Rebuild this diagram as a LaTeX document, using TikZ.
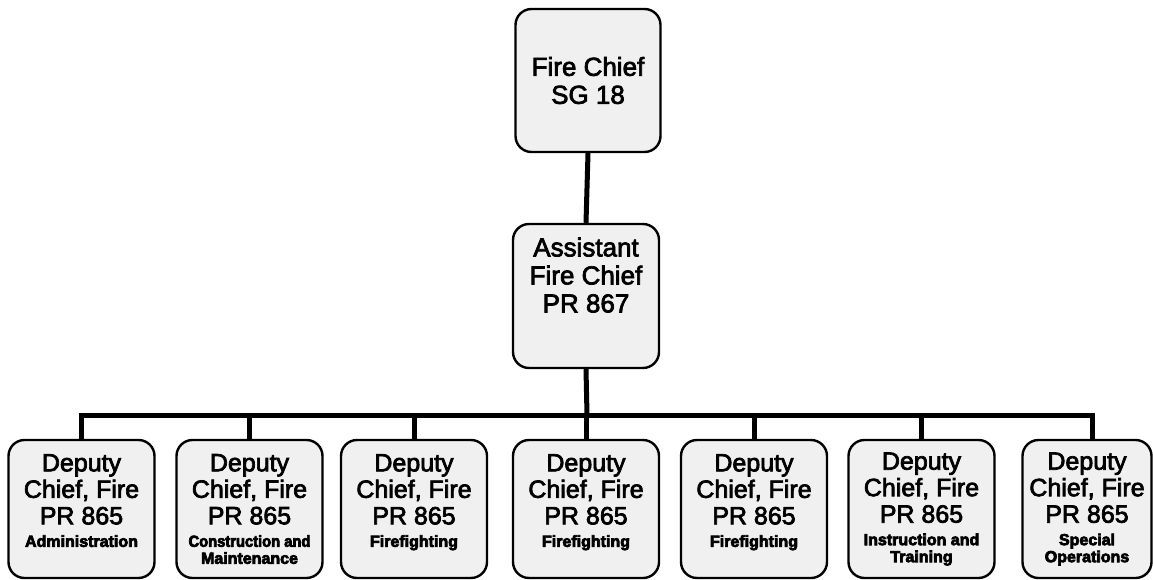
\documentclass[tikz,border=0pt]{standalone}
\usepackage{fontspec}
\setmainfont{Liberation Sans}
\newfontfamily\subfont{Liberation Sans Bold}
\newcommand{\subt}{\fontsize{16}{17}\selectfont\subfont}
\newcommand{\heavytext}{\special{pdf:literal direct 2 Tr 0.7 w}}
\begin{document}
\begin{tikzpicture}[x=1pt,y=-1pt,
  box/.style={draw=black, line width=2.4pt, rounded corners=16pt, fill=black!6, align=center, inner sep=0pt},
  bigbox/.style={box, minimum width=145pt, minimum height=143pt, font=\heavytext\fontsize{26}{28}\selectfont},
  depbox/.style={box, minimum width=146pt, minimum height=138pt, font=\heavytext\fontsize{25}{26.5}\selectfont},
  conn/.style={line width=5pt}]
\useasboundingbox (0,0) rectangle (1153,580);
\node[bigbox] (chief) at (588,80.5) {Fire Chief\\SG 18};
\node[bigbox, minimum width=146pt, minimum height=144pt] (asst) at (586,296) {Assistant\\Fire Chief\\PR 867\\[14pt] \mbox{}};
\node[depbox] (d1) at (81.5,509) {Deputy\\Chief, Fire\\PR 865\\[-4pt]{\subt Administration}\\[-9.5pt]{\subt \mbox{}}};
\node[depbox] (d2) at (249.5,509) {Deputy\\Chief, Fire\\PR 865\\[-4pt]{\subt\addfontfeature{FakeStretch=0.92} Construction and}\\[-9.5pt]{\subt Maintenance}};
\node[depbox] (d3) at (414,509) {Deputy\\Chief, Fire\\PR 865\\[-4pt]{\subt Firefighting}\\[-9.5pt]{\subt \mbox{}}};
\node[depbox] (d4) at (586,509) {Deputy\\Chief, Fire\\PR 865\\[-4pt]{\subt Firefighting}\\[-9.5pt]{\subt \mbox{}}};
\node[depbox] (d5) at (754,509) {Deputy\\Chief, Fire\\PR 865\\[-4pt]{\subt Firefighting}\\[-9.5pt]{\subt \mbox{}}};
\node[depbox] (d6) at (921.5,509) {Deputy\\Chief, Fire\\PR 865\\[-4pt]{\subt Instruction and}\\[-9.5pt]{\subt Training}};
\node[depbox, minimum width=129pt] (d7) at (1087,509) {Deputy\\Chief, Fire\\PR 865\\[-4pt]{\subt Special}\\[-9.5pt]{\subt Operations}};
\coordinate (bus) at (587,415);
\coordinate (t1) at (81,415);
\coordinate (t7) at (1092,415);
\draw[conn] (chief.south) -- (asst.north);
\draw[conn] (asst.south) -- (bus);
\draw[conn] (t1 |- d1.north) -- (t1) -- (t7) -- (t7 |- d7.north);
\draw[conn] (d2.north) -- (d2.north |- bus);
\draw[conn] (d3.north) -- (d3.north |- bus);
\draw[conn] (d4.north) -- (d4.north |- bus);
\draw[conn] (d5.north) -- (d5.north |- bus);
\draw[conn] (d6.north) -- (d6.north |- bus);
\end{tikzpicture}
\end{document}
